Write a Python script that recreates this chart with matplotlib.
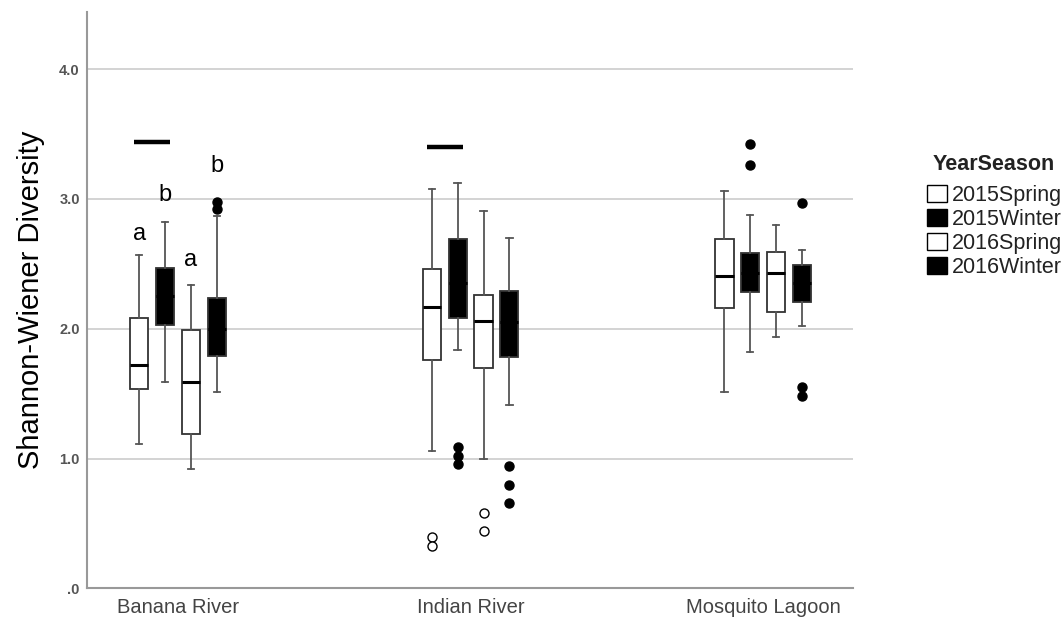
import matplotlib.pyplot as plt
from matplotlib.patches import Patch

plt.rcParams["font.family"] = ["Liberation Sans", "DejaVu Sans"]

# data
sites = ["Banana River", "Indian River", "Mosquito Lagoon"]
seasons = ["2015Spring", "2015Winter", "2016Spring", "2016Winter"]
fills = ["white", "black", "white", "black"]

# box statistics per site (rows) and season (columns)
whislo = [[1.11, 1.59, 0.92, 1.51],
          [1.06, 1.84, 1.00, 1.41],
          [1.51, 1.82, 1.94, 2.02]]
q1 = [[1.54, 2.03, 1.19, 1.79],
      [1.76, 2.08, 1.70, 1.78],
      [2.16, 2.28, 2.13, 2.21]]
med = [[1.72, 2.25, 1.59, 2.00],
       [2.17, 2.35, 2.06, 2.05],
       [2.41, 2.43, 2.43, 2.35]]
q3 = [[2.08, 2.47, 1.99, 2.24],
      [2.46, 2.69, 2.26, 2.29],
      [2.69, 2.58, 2.59, 2.49]]
whishi = [[2.57, 2.82, 2.34, 2.87],
          [3.08, 3.12, 2.91, 2.70],
          [3.06, 2.88, 2.80, 2.61]]
outliers = [[[], [], [], [2.98, 2.92]],
            [[0.40, 0.33], [1.09, 1.02, 0.96], [0.58, 0.44], [0.94, 0.80, 0.66]],
            [[], [3.42, 3.26], [], [2.97, 1.55, 1.48]]]

letters = ["a", "b", "a", "b"]
letter_y = [2.73, 3.03, 2.53, 3.25]
bar_y = [3.44, 3.40]

fig = plt.figure(figsize=(10.64, 6.24), dpi=100)
ax = fig.add_axes([0.0815, 0.0569, 0.7202, 0.9239])

step = 0.0883
offsets = [-1.5 * step, -0.5 * step, 0.5 * step, 1.5 * step]

for g in range(len(sites)):
    for s in range(len(seasons)):
        stats = [{
            "whislo": whislo[g][s], "q1": q1[g][s], "med": med[g][s],
            "q3": q3[g][s], "whishi": whishi[g][s], "fliers": outliers[g][s],
        }]
        ax.bxp(stats, positions=[g + offsets[s]], widths=0.062,
               patch_artist=True, showfliers=True,
               boxprops=dict(facecolor=fills[s], edgecolor="#333333", linewidth=1.3),
               medianprops=dict(color="black", linewidth=2.2),
               whiskerprops=dict(color="#555555", linewidth=1.3),
               capprops=dict(color="#555555", linewidth=1.3),
               capwidths=0.022,
               flierprops=dict(marker="o", markersize=6.5,
                               markerfacecolor=fills[s], markeredgecolor="black",
                               markeredgewidth=1.0))

# significance letters for Banana River
for s in range(len(seasons)):
    ax.text(offsets[s], letter_y[s], letters[s], ha="center", va="center",
            fontsize=17, color="black")

# black bars over the first two boxes
for g, y in enumerate(bar_y):
    mid = g + (offsets[0] + offsets[1]) / 2
    ax.plot([mid - 0.062, mid + 0.062], [y, y], color="black", linewidth=3.2,
            solid_capstyle="butt")

ax.set_xlim(-0.312, 2.307)
ax.set_ylim(0, 4.44)
ax.set_xticks(range(len(sites)))
ax.set_xticklabels(sites, fontsize=14.5, color="#444444")
ax.set_yticks([0, 1, 2, 3, 4])
ax.set_yticklabels([".0", "1.0", "2.0", "3.0", "4.0"], fontsize=10.5,
                   color="#555555", fontweight="bold")
ax.tick_params(axis="x", length=0, pad=7)
ax.tick_params(axis="y", length=0, pad=5)
ax.yaxis.grid(True, color="#cccccc", linewidth=1.2)
ax.set_axisbelow(True)
for side in ["top", "right"]:
    ax.spines[side].set_visible(False)
for side in ["left", "bottom"]:
    ax.spines[side].set_color("#999999")
    ax.spines[side].set_linewidth(1.5)
ax.set_ylabel("Shannon-Wiener Diversity", fontsize=21, labelpad=10)

# legend, title drawn separately to get the wider gap
fig.text(0.877, 0.7356, "YearSeason", fontsize=15.5, fontweight="bold",
         color="#222222", ha="left", va="center")
handles = [Patch(facecolor=fills[s], edgecolor="black", linewidth=1.0) for s in range(len(seasons))]
leg = fig.legend(handles, seasons, loc="upper left", bbox_to_anchor=(0.8712, 0.7035),
                 frameon=False, fontsize=15.5, labelcolor="#222222",
                 handlelength=0.93, handleheight=0.84, handletextpad=0.23,
                 labelspacing=0.145, borderaxespad=0, borderpad=0)

fig.savefig("out.png", dpi=100)
